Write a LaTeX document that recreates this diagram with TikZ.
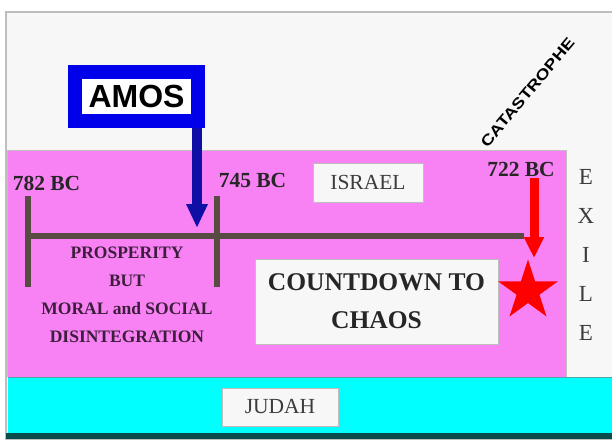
\documentclass[tikz,border=0pt]{standalone}
\usepackage{fontspec}
\setmainfont{Liberation Serif}
\newfontfamily\arialfont{Liberation Sans}
\usetikzlibrary{arrows.meta,shapes.geometric}
\definecolor{panelgrey}{RGB}{247,247,247}
\definecolor{panelline}{RGB}{190,190,190}
\definecolor{israelpink}{RGB}{248,130,244}
\definecolor{judahcyan}{RGB}{0,255,255}
\definecolor{judahline}{RGB}{10,75,75}
\definecolor{amosblue}{RGB}{0,0,235}
\definecolor{arrowblue}{RGB}{15,15,165}
\definecolor{linebrown}{RGB}{88,76,66}
\definecolor{labelgrey}{RGB}{60,60,60}
\definecolor{purpletext}{RGB}{60,30,60}
\tikzset{
  datelabel/.style={font=\bfseries\fontsize{21.5}{24}\selectfont, text=black!85, inner sep=0pt},
  whitebox/.style={draw=panelline, fill=panelgrey, line width=1pt, inner sep=0pt},
  timeline/.style={draw=linebrown, line width=5.5pt},
  exileletter/.style={font=\fontsize{23}{26}\selectfont, text=labelgrey, inner sep=0pt},
}
\begin{document}
\begin{tikzpicture}[x=1pt,y=-1pt]
\useasboundingbox (0,0) rectangle (612,439);
\fill[white] (0,0) rectangle (612,439);
% panel
\draw[panelline, fill=panelgrey, line width=1.2pt] (6,12) rectangle (613,440);
% Israel region
\fill[israelpink] (7.5,150) rectangle (566,377);
\draw[black!25, line width=0.8pt] (7.5,377) -- (7.5,150) -- (566,150) -- (566,377);
% Judah region
\fill[judahcyan] (7.5,377) rectangle (613,433);
\draw[teal!70, line width=0.8pt] (7.5,377.5) -- (613,377.5);
\fill[judahline] (6,433) rectangle (613,439);

% timeline
\coordinate (tlstart) at (27,236);
\coordinate (tlend) at (524,236);
\coordinate (t1top) at (28,196);
\coordinate (t1bot) at (28,287);
\coordinate (t2top) at (217,196);
\coordinate (t2bot) at (217,287);
\draw[timeline] (tlstart) -- (tlend);
\draw[timeline] (t1top) -- (t1bot);
\draw[timeline] (t2top) -- (t2bot);

% date labels
\node[datelabel] (d782) at (46.5,183) {782 BC};
\node[datelabel] (d745) at (252.5,180) {745 BC};
\node[datelabel] (d722) at (521,169) {722 BC};

% Israel box
\node[whitebox, minimum width=110pt, minimum height=39pt, font=\fontsize{21.5}{24}\selectfont, text=labelgrey] (israel) at (368,182.5) {ISRAEL};

% Judah box
\node[whitebox, minimum width=116pt, minimum height=38pt, font=\fontsize{21.5}{24}\selectfont, text=labelgrey] (judah) at (280,407) {JUDAH};

% Countdown box
\node[whitebox, minimum width=243pt, minimum height=85pt, align=center, font=\bfseries\fontsize{25.5}{38}\selectfont, text=black!85] (countdown) at (376.5,301.5) {COUNTDOWN TO\\CHAOS};

% prosperity text
\node[align=center, inner sep=0pt, font=\bfseries\fontsize{17.5}{28}\selectfont, text=purpletext] (prosperity) at (127,294.5) {PROSPERITY\\BUT\\MORAL and SOCIAL\\DISINTEGRATION};

% EXILE
\node[exileletter] (ex1) at (586,177) {E};
\node[exileletter] (ex2) at (586,216) {X};
\node[exileletter] (ex3) at (586,255) {I};
\node[exileletter] (ex4) at (586,294) {L};
\node[exileletter] (ex5) at (586,333) {E};

% AMOS box
\node[draw=amosblue, line width=14pt, fill=white, minimum width=123pt, minimum height=49pt, inner sep=0pt, font=\arialfont\bfseries\fontsize{32}{34}\selectfont] (amos) at (136.5,96.5) {AMOS};
\coordinate (amostip) at (197,228);
\draw[arrowblue, line width=10pt, -{Triangle[width=20pt,length=24pt]}] (amos.south -| amostip) -- (amostip);

% Catastrophe
\node[rotate=50, inner sep=0pt, font=\arialfont\bfseries\fontsize{15}{16}\selectfont] (catas) at (527.5,92.5) {\scalebox{1.22}[1]{CATASTROPHE}};

% star and red arrow
\node[star, star points=5, star point ratio=2.618, fill=red, minimum size=63pt, inner sep=0pt] (star) at (528,291) {};
\coordinate (redstart) at (534,178);
\coordinate (redtip) at (534,258);
\draw[red, line width=9pt, -{Triangle[width=19pt,length=21pt]}] (redstart) -- (redtip);
\end{tikzpicture}
\end{document}
